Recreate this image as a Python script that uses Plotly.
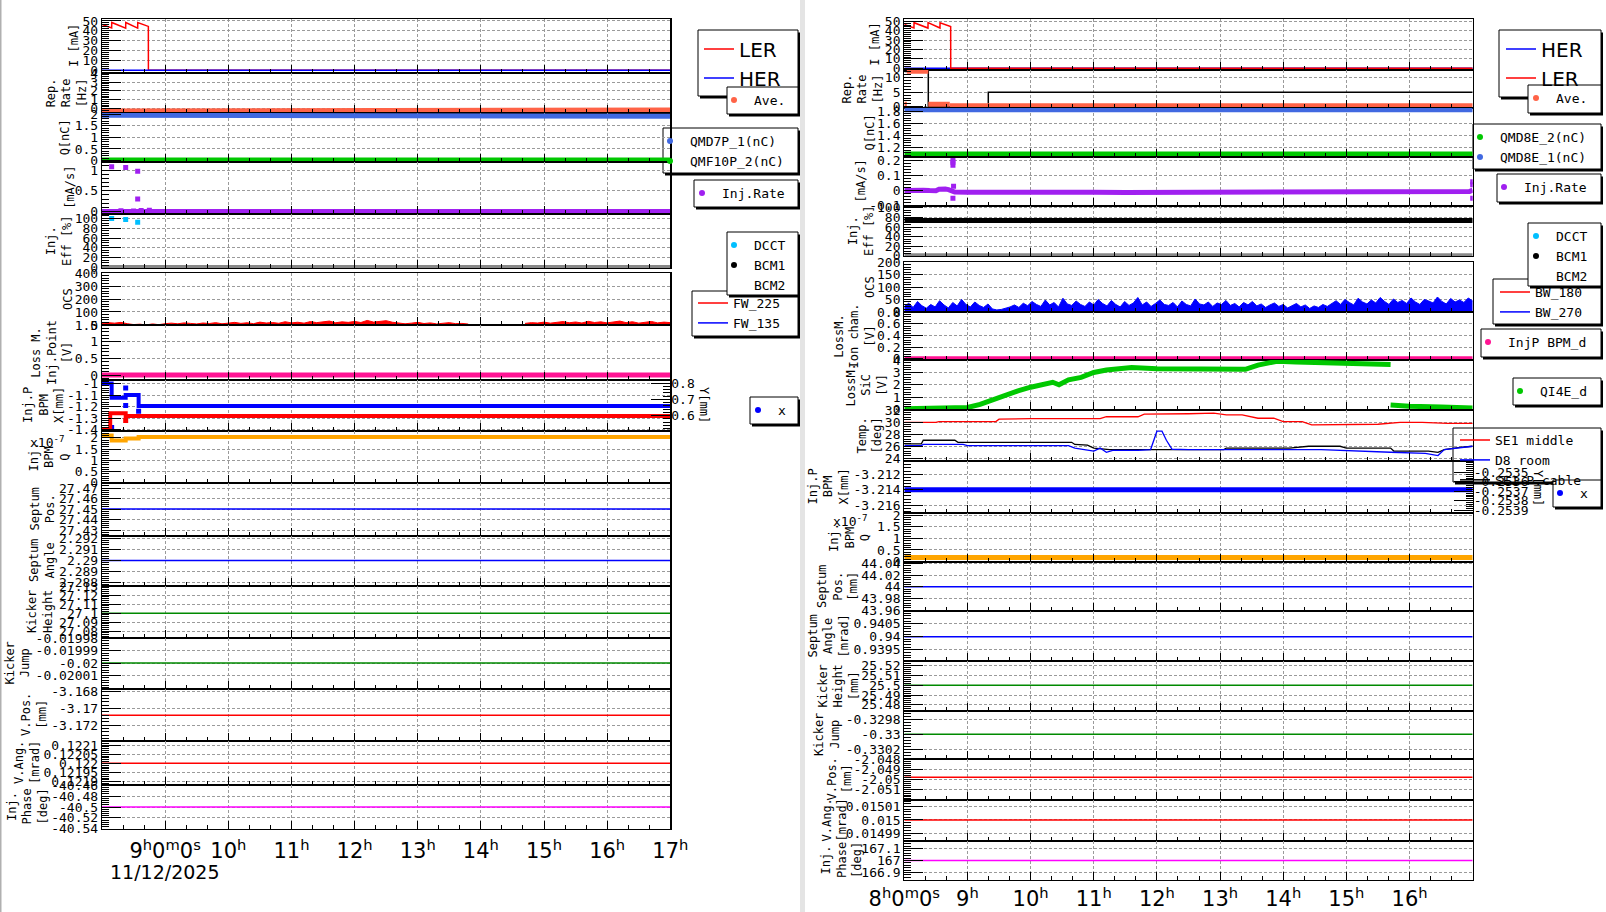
import numpy as np
import plotly.graph_objects as go

W, H = 1606, 912

# ---------------- time axis (hours of 11/12/2025) ----------------
SPAN = [8.0, 17.0]
HOURS = [8, 9, 10, 11, 12, 13, 14, 15, 16, 17]
HOURS_L = [9, 10, 11, 12, 13, 14, 15, 16, 17]
HOUR_TXT_L = ["9<sup>h</sup>0<sup>m</sup>0<sup>s</sup>", "10<sup>h</sup>", "11<sup>h</sup>", "12<sup>h</sup>",
              "13<sup>h</sup>", "14<sup>h</sup>", "15<sup>h</sup>", "16<sup>h</sup>", "17<sup>h</sup>"]
HOURS_R = [8, 9, 10, 11, 12, 13, 14, 15, 16]
HOUR_TXT_R = ["8<sup>h</sup>0<sup>m</sup>0<sup>s</sup>", "9<sup>h</sup>", "10<sup>h</sup>", "11<sup>h</sup>",
              "12<sup>h</sup>", "13<sup>h</sup>", "14<sup>h</sup>", "15<sup>h</sup>", "16<sup>h</sup>"]
DATE_TXT = "11/12/2025"
FLAT_T = [8.0, 17.0]

# ---------------- beam current [mA] ----------------
CUR_T = [8.0, 8.153, 8.154, 8.375, 8.376, 8.565, 8.566, 8.734, 8.735, 17.0]
LER_MA = [46.5, 43.0, 48.5, 42.8, 48.5, 42.8, 48.5, 44.5, 0.0, 0.0]
HER_MA = [0.0, 0.0]

# ---------------- left: rep rate / charge / inj rate / eff ----------------
AVE_L_T = [8.0, 8.58, 8.58, 17.0]
AVE_L_HZ = [-0.28, -0.28, -0.17, -0.17]
QMD7P_T = [8.0, 8.58, 8.58, 17.0]
QMD7P_NC = [1.95, 1.95, 1.91, 1.91]
QMF10P_NC = [0.02, 0.02]
INJR_L = [0.0, 0.0]
INJR_PT_T = [8.153, 8.375, 8.565, 8.565, 8.05, 8.2, 8.3, 8.45, 8.5, 8.62, 8.68, 8.75]
INJR_PT_V = [1.08, 1.06, 0.97, 0.30, -0.01, -0.02, 0.02, -0.03, 0.015, 0.025, -0.025, 0.03]
DCCT_L_T = [8.153, 8.375, 8.565]
DCCT_L_PCT = [100.0, 98.0, 92.0]
BCM2_PCT = [0.0, 0.0]

# ---------------- left: loss monitors ----------------
OCS_L_A = [12, 18, 14, 20, 10, 3, 6, 0, 8, 2, 10, 14, 9, 16, 12, 8, 15, 11, 18, 9,
           14, 20, 12, 17, 10, 22, 15, 19, 13, 25, 16, 21, 14, 26, 18, 22, 30, 17, 24, 20,
           27, 19, 35, 22, 28, 33, 21, 15, 9, 14, 20, 11, 16, 8, 13, 18, 10, 12, 7]
OCS_L_A_SPAN = [8.0, 13.8]
OCS_L_B = [12, 18, 15, 22, 14, 20, 26, 17, 23, 15, 28, 19, 24, 16, 21, 30, 18, 25, 14, 20, 27, 16, 22, 18]
OCS_L_B_SPAN = [14.7, 17.0]
FW135 = [0.0, 0.0]
LOSS_INJ_V = [0.0, 0.0]

# ---------------- left: injection BPM ----------------
BPM_L_T = [8.0, 8.153, 8.153, 8.375, 8.375, 8.58, 8.58, 17.0]
BPMX_L = [-1.0, -1.0, -1.123, -1.123, -1.10, -1.10, -1.194, -1.194]
BPMX_PT_T = [8.375, 8.375, 8.58, 8.153]
BPMX_PT_V = [-1.04, -1.19, -1.24, -1.38]
BPMY_L_T = [8.0, 8.13, 8.13, 8.375, 8.375, 17.0]
BPMY_L = [0.518, 0.518, 0.615, 0.615, 0.598, 0.598]
BPMQ_L = [2.1, 2.1, 1.88, 1.88, 1.97, 1.97, 2.03, 2.03]

# ---------------- left: septum / kicker / vertical ----------------
SEPT_POS_L = [27.45, 27.45]
SEPT_ANG_L = [2.29, 2.29]
KICK_H_L = [27.1, 27.1]
KICK_J_L = [-0.02, -0.02]
VPOS_L = [-3.17084, -3.17084]
VANG_L = [0.122, 0.122]
PHASE_L = [-40.5, -40.5]

# ---------------- right: rep rate / charge / inj rate / eff ----------------
AVE_R_T = [8.0, 8.04, None, 8.04, 8.38, None, 8.38, 8.72, None, 8.72, 17.0]
AVE_R_HZ = [0.86, 0.86, None, 12.15, 12.15, None, 0.86, 0.86, None, 0.38, 0.38]
SET_R_T = [8.0, 8.38, 8.38, 9.33, 9.33, 17.0]
SET_R_HZ = [12.1, 12.1, 0.03, 0.03, 4.97, 4.97]
QMD8E1_NC = [1.82, 1.82]
QMD8E2_NC = [1.1, 1.1]
INJR_R_T = [8.0, 8.1, 8.2, 8.3, 8.4, 8.5, 8.55, 8.6, 8.65, 8.7, 8.76, 8.8, 9.0, 9.5, 10.0, 10.5,
            11.0, 11.5, 12.0, 12.5, 13.0, 13.5, 14.0, 14.5, 15.0, 15.3, 15.5, 16.0, 16.5, 16.95, 17.0]
INJR_R = [0.002, 0.004, -0.002, 0.003, 0.001, 0.0, 0.01, 0.015, 0.012, 0.008, -0.004, -0.008, -0.01,
          -0.008, -0.007, -0.009, -0.01, -0.011, -0.01, -0.012, -0.011, -0.013, -0.012, -0.012, -0.01,
          -0.006, -0.005, -0.006, -0.007, -0.005, 0.005]
INJR_R_PT_T = [8.77, 8.77, 8.77, 8.78, 8.77, 17.0, 17.0, 17.0]
INJR_R_PT_V = [0.2, 0.19, 0.17, 0.03, -0.05, 0.06, 0.04, -0.05]
BCM1_R_PCT = [74.0, 74.0]

# ---------------- right: loss monitors ----------------
BW270 = [22, 35, 18, 42, 25, 15, 30, 20, 45, 28, 16, 38, 24, 50, 30, 20, 40, 26, 18, 32,
         12, 8, 10, 14, 20, 28, 18, 35, 25, 42, 30, 22, 48, 28, 38, 20, 55, 32, 26, 44,
         30, 22, 40, 28, 50, 34, 24, 46, 30, 20, 42, 26, 36, 58, 28, 40, 22, 34, 48, 30,
         26, 38, 20, 44, 30, 24, 52, 32, 28, 40, 22, 36, 30, 46, 26, 34, 20, 38, 28, 42,
         24, 32, 18, 28, 36, 22, 30, 16, 26, 34, 20, 28, 14, 24, 18, 30, 22, 35, 45, 30,
         50, 38, 28, 55, 40, 32, 48, 36, 58, 42, 30, 52, 38, 46, 34, 56, 40, 30, 50, 44,
         36, 60, 42, 32, 54, 40, 48, 38, 56, 44]
BW180 = [1.0, 1.0]
ION_V = [0.0, 0.0]
SIC_T1 = [8.0, 8.5, 9.0, 9.2, 9.4, 9.6, 9.8, 10.0, 10.2, 10.35, 10.45, 10.6, 10.8, 11.0, 11.2, 11.4,
          11.6, 12.0, 12.5, 13.0, 13.4, 13.6, 13.9, 14.2, 14.6, 15.0, 15.4, 15.7]
SIC_V1 = [0.05, 0.1, 0.15, 0.4, 0.8, 1.2, 1.5, 1.8, 2.0, 2.2, 2.0, 2.4, 2.6, 3.0, 3.2, 3.35,
          3.4, 3.3, 3.25, 3.2, 3.25, 3.6, 3.9, 3.85, 3.8, 3.75, 3.7, 3.65]
SIC_T2 = [15.7, 16.0, 16.5, 17.0]
SIC_V2 = [0.35, 0.25, 0.2, 0.12]

# ---------------- right: temperatures [deg] ----------------
SE1M_T = [8.0, 8.5, 8.55, 9.45, 9.5, 10.0, 11.1, 11.2, 11.7, 11.8, 12.5, 12.9, 13.1, 13.35, 13.6,
          13.85, 14.0, 14.3, 14.45, 14.9, 15.5, 15.85, 16.2, 16.6, 17.0]
SE1M_C = [29.95, 29.95, 30.1, 30.1, 30.5, 30.6, 30.6, 30.9, 30.9, 31.35, 31.4, 31.5, 31.2, 31.2, 30.65,
          30.65, 30.1, 30.1, 29.55, 29.6, 29.65, 29.95, 29.95, 29.8, 29.8]
PCAB_T = [8.0, 8.27, 8.3, 8.8, 8.85, 10.65, 10.7, 10.9, 11.0, 11.25, 12.5, 13.06, 13.1, 14.1, 14.4,
          14.9, 15.0, 15.7, 15.75, 16.3, 16.45, 16.55, 16.8, 17.0]
PCAB_C = [26.4, 26.4, 27.0, 27.0, 26.65, 26.65, 26.3, 26.2, 25.7, 25.45, 25.45, 25.45, 25.7, 25.7, 26.0,
          26.0, 25.7, 25.7, 25.2, 25.2, 25.0, 25.45, 25.8, 26.0]
D8_T = [8.0, 8.27, 8.3, 8.93, 9.0, 10.6, 10.7, 10.9, 11.0, 11.1, 11.2, 11.3, 11.7, 11.9, 11.97, 12.0,
        12.08, 12.15, 12.24, 12.5, 14.6, 15.1, 15.7, 16.25, 16.45, 16.55, 16.7, 17.0]
D8_C = [26.1, 26.1, 26.3, 26.3, 26.1, 26.1, 25.7, 25.45, 25.2, 25.7, 25.0, 25.3, 25.3, 25.45, 27.5, 28.5,
        28.5, 27.0, 25.5, 25.45, 25.45, 25.3, 25.0, 24.8, 24.45, 25.45, 25.6, 26.0]

# ---------------- right: BPM / septum / kicker / vertical ----------------
BPMX_R = [-3.214, -3.214]
BPMY_R = [None, None]          # Y reading not shown in the picture (axis only)
BPMQ_R = [0.18, 0.18]
SEPT_POS_R = [44.0, 44.0]
SEPT_ANG_R = [0.94, 0.94]
KICK_H_R = [25.5, 25.5]
KICK_J_R = [-0.33, -0.33]
VPOS_R = [-2.0498, -2.0498]
VANG_R = [0.015, 0.015]
PHASE_R = [167.0, 167.0]

# ---------------- y tick values ----------------
TK_CUR = [0, 10, 20, 30, 40, 50]
TK_REP_L = [0, 1, 2, 3, 4]
TK_Q_L = [0, 0.5, 1, 1.5, 2]
TK_IR_L = [0, 0.5, 1]
TK_EFF = [0, 20, 40, 60, 80, 100]
TK_OCS_L = [0, 100, 200, 300, 400]
TK_LOSS_L = [0, 0.5, 1, 1.5]
TK_BPMX_L = [-1.4, -1.3, -1.2, -1.1, -1.0]
TK_BPMY_L = [0.6, 0.7, 0.8]
TK_BPMQ = [0, 0.5, 1, 1.5, 2]
TK_SPOS_L = [27.43, 27.44, 27.45, 27.46, 27.47]
TK_SANG_L = [2.288, 2.289, 2.29, 2.291, 2.292]
TK_KH_L = [27.08, 27.09, 27.1, 27.11, 27.12, 27.13]
TK_KJ_L = [-0.02001, -0.02, -0.01999, -0.01998]
TK_VPOS_L = [-3.172, -3.17, -3.168]
TK_VANG_L = [0.1219, 0.12195, 0.122, 0.12205, 0.1221]
TK_PH_L = [-40.54, -40.52, -40.5, -40.48, -40.46]
TK_REP_R = [0, 5, 10]
TK_Q_R = [1.2, 1.4, 1.6, 1.8]
TK_IR_R = [-0.1, 0, 0.1, 0.2]
TK_OCS_R = [0, 50, 100, 150, 200]
TK_ION = [0, 0.2, 0.4, 0.6, 0.8]
TK_SIC = [0, 1, 2, 3, 4]
TK_TEMP = [24, 26, 28, 30, 32]
TK_BPMX_R = [-3.216, -3.214, -3.212]
TK_BPMY_R = [-0.2539, -0.2538, -0.2537, -0.2536, -0.2535]
TK_SPOS_R = [43.96, 43.98, 44, 44.02, 44.04]
TK_SANG_R = [0.9395, 0.94, 0.9405]
TK_KH_R = [25.48, 25.49, 25.5, 25.51, 25.52]
TK_KJ_R = [-0.3302, -0.33, -0.3298]
TK_VPOS_R = [-2.051, -2.05, -2.049, -2.048]
TK_VANG_R = [0.01499, 0.015, 0.01501]
TK_PH_R = [166.9, 167, 167.1]

# ---------------- colours ----------------
RED, BLUE, GREEN = "#ff0000", "#0000ff", "#00c800"
TOMATO, ROYAL, PURPLE = "#ff6347", "#4169e1", "#a020f0"
SKY, GREY, PINK, ORANGE = "#00bfff", "#888888", "#ff1493", "#ffa500"
DKGREEN, MAGENTA = "#008a00", "#ff00ff"
MONO = "DejaVu Sans Mono"

# ---------------- panel layout (pixel boxes) ----------------
XL = (102, 670.3)
XR = (904.3, 1472.7)
PANELS = [
    # key, side, top, bottom, y-range, ticks, minor dtick, title, title right edge px
    ("L1", "L", 19.3, 72.7, [-2.4, 51.7], TK_CUR, 2, "I [mA]", 83),
    ("L2", "L", 72.7, 113, [-0.5, 4.05], TK_REP_L, 0.2, "Rep.<br>Rate<br>[Hz]", 91),
    ("L3", "L", 113, 161.7, [-0.05, 2.05], TK_Q_L, 0.1, "Q[nC]", 74),
    ("L4", "L", 161.7, 214, [-0.06, 1.2], TK_IR_L, 0.1, "[mA/s]", 79),
    ("L5", "L", 214, 268, [-1, 109], TK_EFF, 5, "Inj.<br>Eff [%]", 76),
    ("L6", "L", 273, 325, [-0.3, 400.5], TK_OCS_L, 20, "OCS", 77),
    ("L7", "L", 325, 380, [-0.147, 1.505], TK_LOSS_L, 0.1, "Loss M.<br>Inj.Point<br>[V]", 76),
    ("L8", "L", 380, 431, [-1.41, -0.97], TK_BPMX_L, 0.02, "Inj.P<br>BPM<br>X[mm]", 68),
    ("L9", "L", 431, 483, [-0.01, 2.3], TK_BPMQ, 0.1, "Inj.<br>BPM<br>Q", 73),
    ("L10", "L", 483, 536, [27.4243, 27.4748], TK_SPOS_L, 0.002, "Septum<br>Pos.", 59),
    ("L11", "L", 536, 586, [2.2877, 2.2922], TK_SANG_L, 0.0002, "Septum<br>Angle", 59),
    ("L12", "L", 586, 638, [27.0724, 27.1302], TK_KH_L, 0.002, "Kicker<br>Height", 57),
    ("L13", "L", 638, 689, [-0.020021, -0.0199798], TK_KJ_L, 0.000002, "Kicker<br>Jump", 34),
    ("L14", "L", 689, 741, [-3.17392, -3.16768], TK_VPOS_L, 0.0004, "V.Pos.<br>[mm]", 51),
    ("L15", "L", 741, 785, [0.121882, 0.122122], TK_VANG_L, 0.00001, "V.Ang.<br>[mrad]", 44),
    ("L16", "L", 785, 829, [-40.5405, -40.4595], TK_PH_L, 0.004, "Inj.<br>Phase<br>[deg]", 51),
    ("R1", "R", 19.3, 70, [-1.8, 52.1], TK_CUR, 2, "I [mA]", 884),
    ("R2", "R", 70, 108, [-0.4, 12.6], TK_REP_R, 1, "Rep.<br>Rate<br>[Hz]", 886),
    ("R3", "R", 108, 157, [1.05, 1.85], TK_Q_R, 0.04, "Q[nC]", 878),
    ("R4", "R", 157, 206, [-0.101, 0.224], TK_IR_R, 0.02, "[mA/s]", 869),
    ("R5", "R", 206, 256, [-0.3, 104], TK_EFF, 5, "Inj.<br>Eff [%]", 878),
    ("R6", "R", 262, 312, [-0.3, 200.5], TK_OCS_R, 10, "OCS", 879),
    ("R7", "R", 312, 360, [-0.02, 0.802], TK_ION, 0.04, "LossM.<br>Ion cham.<br>[V]", 878),
    ("R8", "R", 360, 410, [-0.05, 4.01], TK_SIC, 0.2, "LossM.<br>SiC<br>[V]", 890),
    ("R9", "R", 410, 461, [23.55, 32.02], TK_TEMP, 0.4, "Temp.<br>[deg]", 886),
    ("R10", "R", 461, 513, [-3.217, -3.2103], TK_BPMX_R, 0.0004, "Inj.P<br>BPM<br>X[mm]", 853),
    ("R11", "R", 513, 562, [-0.02, 2.1], TK_BPMQ, 0.1, "Inj.<br>BPM<br>Q", 874),
    ("R12", "R", 562, 611, [43.9584, 44.0423], TK_SPOS_R, 0.004, "Septum<br>Pos.<br>[mm]", 862),
    ("R13", "R", 611, 661, [0.93907, 0.94099], TK_SANG_R, 0.0001, "Septum<br>Angle<br>[mrad]", 852),
    ("R14", "R", 661, 711, [25.4736, 25.525], TK_KH_R, 0.002, "Kicker<br>Height<br>[mm]", 862),
    ("R15", "R", 711, 759, [-0.33033, -0.32969], TK_KJ_R, 0.00004, "Kicker<br>Jump", 844),
    ("R16", "R", 759, 800, [-2.05211, -2.04793], TK_VPOS_R, 0.0002, "V.Pos.<br>[mm]", 856),
    ("R17", "R", 800, 841, [0.0149842, 0.015015], TK_VANG_R, 0.000002, "V.Ang.<br>[mrad]", 851),
    ("R18", "R", 841, 880, [166.836, 167.164], TK_PH_R, 0.02, "Inj.<br>Phase<br>[deg]", 866),
]


def fmt(v):
    return "%.6g" % v


GRID = dict(showgrid=True, gridcolor="#9a9a9a", gridwidth=1, griddash="3px,2px")
layout = dict(width=W, height=H, autosize=False, template="none",
              margin=dict(l=0, r=0, t=0, b=0, pad=0, autoexpand=False),
              paper_bgcolor="white", plot_bgcolor="rgba(0,0,0,0)", showlegend=True)
annotations = []
shapes = []
AX = {}

for n, (key, side, top, bot, yr, tv, mdt, title, tx) in enumerate(PANELS, start=1):
    s = "" if n == 1 else str(n)
    x0, x1 = XL if side == "L" else XR
    xa = dict(domain=[x0 / W, x1 / W], range=SPAN, anchor="y" + s, tickmode="array", tickvals=HOURS,
              showticklabels=False, ticks="inside", ticklen=8, tickwidth=1, tickcolor="black",
              minor=dict(ticks="inside", ticklen=4, tick0=8, dtick=1 / 3, tickcolor="black", tickwidth=1,
                         showgrid=False),
              showline=True, linecolor="black", linewidth=1.2, mirror=True, zeroline=False, automargin=False,
              tickfont=dict(family="DejaVu Sans", size=21, color="black"), fixedrange=True, **GRID)
    if key == "L16":
        xa.update(tickvals=HOURS_L, ticktext=HOUR_TXT_L, showticklabels=True, ticklabelstandoff=3)
    elif key == "R18":
        xa.update(tickvals=HOURS_R, ticktext=HOUR_TXT_R, showticklabels=True, ticklabelstandoff=0)
    ya = dict(domain=[1 - bot / H, 1 - top / H], range=yr, anchor="x" + s, tickmode="array", tickvals=tv,
              ticktext=[fmt(v) for v in tv], ticks="inside", ticklen=19, tickwidth=1, tickcolor="black",
              minor=dict(ticks="inside", ticklen=7, tick0=tv[0], dtick=mdt, tickcolor="black", tickwidth=1,
                         showgrid=False),
              showline=True, linecolor="black", linewidth=1.2, mirror=True, zeroline=False, automargin=False,
              tickfont=dict(family=MONO, size=13, color="black"), fixedrange=True, **GRID)
    layout["xaxis" + s] = xa
    layout["yaxis" + s] = ya
    AX[key] = ("x" + s, "y" + s)
    annotations.append(dict(text=title, x=tx / W, y=1 - (top + bot) / 2 / H, xref="paper", yref="paper",
                            xanchor="right", yanchor="middle", textangle=-90, showarrow=False, align="center",
                            font=dict(family=MONO, size=12, color="black")))

# secondary (right) y axes for the injection-point BPM panels
NEXT = len(PANELS) + 1
for key, yr, tv, mdt, tpx, tpy in [("L8", [0.505, 0.82], TK_BPMY_L, 0.02, 704, 405),
                                    ("R10", [-0.25393, -0.25338], TK_BPMY_R, 0.00002, 1538, 488)]:
    xa_name, ya_name = AX[key]
    s = str(NEXT)
    NEXT += 1
    layout["yaxis" + s] = dict(overlaying=ya_name, side="right", anchor=xa_name, range=yr, tickmode="array",
                               tickvals=tv, ticktext=[fmt(v) for v in tv], ticks="inside", ticklen=19,
                               tickwidth=1, tickcolor="black", showticklabels=True,
                               minor=dict(ticks="inside", ticklen=7, tick0=tv[0], dtick=mdt, tickcolor="black",
                                          tickwidth=1, showgrid=False),
                               showgrid=False, showline=False, zeroline=False, fixedrange=True, automargin=False,
                               tickfont=dict(family=MONO, size=13, color="black"))
    AX[key + "Y"] = (xa_name, "y" + s)
    annotations.append(dict(text="Y[mm]", x=tpx / W, y=1 - tpy / H, xref="paper", yref="paper",
                            xanchor="center", yanchor="middle", textangle=90, showarrow=False,
                            font=dict(family=MONO, size=12, color="black")))

fig = go.Figure()


def line(key, x, y, color, width=1.5, mode="lines", msize=4, fill=None):
    xa, ya = AX[key]
    kw = dict(x=x, y=y, mode=mode, xaxis=xa, yaxis=ya, showlegend=False, hoverinfo="skip")
    if "lines" in mode:
        kw["line"] = dict(color=color, width=width)
    if "markers" in mode:
        kw["marker"] = dict(color=color, size=msize, symbol="square", line=dict(width=0))
    if fill:
        kw["fill"] = fill
        kw["fillcolor"] = color
    fig.add_trace(go.Scatter(**kw))


def spaced(span, vals):
    return list(np.linspace(span[0], span[1], len(vals)))


# ----- left column -----
line("L1", CUR_T, LER_MA, RED)
line("L1", FLAT_T, HER_MA, BLUE)
line("L2", AVE_L_T, AVE_L_HZ, TOMATO, 5)
line("L3", QMD7P_T, QMD7P_NC, ROYAL, 5)
line("L3", FLAT_T, QMF10P_NC, GREEN, 5)
line("L4", FLAT_T, INJR_L, PURPLE, 5)
line("L4", INJR_PT_T, INJR_PT_V, PURPLE, mode="markers", msize=5)
line("L5", FLAT_T, BCM2_PCT, GREY, 5)
line("L5", DCCT_L_T, DCCT_L_PCT, SKY, mode="markers", msize=5)
line("L6", FLAT_T, FW135, BLUE, 1.5)
line("L6", spaced(OCS_L_A_SPAN, OCS_L_A), OCS_L_A, RED, 1, fill="tozeroy")
line("L6", spaced(OCS_L_B_SPAN, OCS_L_B), OCS_L_B, RED, 1, fill="tozeroy")
line("L7", FLAT_T, LOSS_INJ_V, PINK, 5)
line("L8Y", BPMY_L_T, BPMY_L, RED, 4)
line("L8Y", [8.375], [0.57], RED, mode="markers", msize=5)
line("L8", BPM_L_T, BPMX_L, BLUE, 4)
line("L8", BPMX_PT_T, BPMX_PT_V, BLUE, mode="markers", msize=5)
line("L9", BPM_L_T, BPMQ_L, ORANGE, 4)
line("L10", FLAT_T, SEPT_POS_L, BLUE)
line("L11", FLAT_T, SEPT_ANG_L, BLUE)
line("L12", FLAT_T, KICK_H_L, DKGREEN)
line("L13", FLAT_T, KICK_J_L, DKGREEN)
line("L14", FLAT_T, VPOS_L, RED)
line("L15", FLAT_T, VANG_L, RED)
line("L16", FLAT_T, PHASE_L, MAGENTA)

# ----- right column -----
line("R1", FLAT_T, HER_MA, BLUE)
line("R1", CUR_T, LER_MA, RED)
line("R2", SET_R_T, SET_R_HZ, "black", 1.5)
line("R2", AVE_R_T, AVE_R_HZ, TOMATO, 5)
line("R3", FLAT_T, QMD8E1_NC, ROYAL, 5)
line("R3", FLAT_T, QMD8E2_NC, GREEN, 5)
line("R4", INJR_R_T, INJR_R, PURPLE, 5)
line("R4", INJR_R_PT_T, INJR_R_PT_V, PURPLE, mode="markers", msize=5)
line("R5", FLAT_T, BCM2_PCT, GREY, 5)
line("R5", FLAT_T, BCM1_R_PCT, "black", 5)
line("R6", spaced(SPAN, BW270), BW270, BLUE, 1, fill="tozeroy")
line("R6", FLAT_T, BW180, RED, 1.5)
line("R7", FLAT_T, ION_V, PINK, 5)
line("R8", SIC_T1, SIC_V1, GREEN, 5)
line("R8", SIC_T2, SIC_V2, GREEN, 5)
line("R9", SE1M_T, SE1M_C, RED, 1.3)
line("R9", PCAB_T, PCAB_C, "black", 1.3)
line("R9", D8_T, D8_C, BLUE, 1.3)
line("R10Y", FLAT_T, BPMY_R, RED, 3)
line("R10", FLAT_T, BPMX_R, BLUE, 5)
line("R11", FLAT_T, BPMQ_R, ORANGE, 5)
line("R12", FLAT_T, SEPT_POS_R, BLUE)
line("R13", FLAT_T, SEPT_ANG_R, BLUE)
line("R14", FLAT_T, KICK_H_R, DKGREEN)
line("R15", FLAT_T, KICK_J_R, DKGREEN)
line("R16", FLAT_T, VPOS_R, RED)
line("R17", FLAT_T, VANG_R, RED)
line("R18", FLAT_T, PHASE_R, MAGENTA)

# ---------------- legends (box px, entries, symbol x, first entry y, font) ----------------
LEGENDS = [
    ((698, 30, 798, 96), [("LER", "line", RED), ("HER", "line", BLUE)], 704, 49, "big"),
    ((727, 87, 798, 114), [("Ave.", "dot", TOMATO)], 734, 100, "mono"),
    ((663, 128, 798, 173), [("QMD7P_1(nC)", "dot", ROYAL), ("QMF10P_2(nC)", "dot", GREEN)], 670, 141, "mono"),
    ((694, 180, 798, 207), [("Inj.Rate", "dot", PURPLE)], 702, 193, "mono"),
    ((692, 291, 798, 336), [("FW_225", "line", RED), ("FW_135", "line", BLUE)], 698, 303, "mono"),
    ((727, 232, 798, 295), [("DCCT", "dot", SKY), ("BCM1", "dot", "black"), ("BCM2", "dot", "rgba(0,0,0,0)")],
     734, 245, "mono"),
    ((750, 397, 798, 424), [("x", "dot", BLUE)], 758, 410, "mono"),
    ((1499, 30, 1601, 97), [("HER", "line", BLUE), ("LER", "line", RED)], 1506, 49, "big"),
    ((1528, 85, 1601, 113), [("Ave.", "dot", TOMATO)], 1536, 98, "mono"),
    ((1473, 124, 1601, 169), [("QMD8E_2(nC)", "dot", GREEN), ("QMD8E_1(nC)", "dot", ROYAL)], 1480, 137, "mono"),
    ((1497, 174, 1601, 202), [("Inj.Rate", "dot", PURPLE)], 1504, 187, "mono"),
    ((1493, 279, 1601, 324), [("BW_180", "line", RED), ("BW_270", "line", BLUE)], 1500, 292, "mono"),
    ((1528, 223, 1601, 286), [("DCCT", "dot", SKY), ("BCM1", "dot", "black"), ("BCM2", "dot", "rgba(0,0,0,0)")],
     1536, 236, "mono"),
    ((1481, 329, 1601, 357), [("InjP BPM_d", "dot", PINK)], 1488, 342, "mono"),
    ((1513, 378, 1601, 405), [("QI4E_d", "dot", GREEN)], 1520, 391, "mono"),
    ((1453, 428, 1601, 482), [("SE1 middle", "line", RED), ("D8 room", "line", BLUE),
                              ("SE1 P.cable", "line", "black")], 1460, 440, "mono"),
    ((1553, 480, 1601, 507), [("x", "dot", BLUE)], 1560, 493, "mono"),
]

for i, (box, ents, sx, sy, fk) in enumerate(LEGENDS):
    lid = "legend" if i == 0 else "legend%d" % (i + 1)
    fs = 20 if fk == "big" else 13
    fam = "DejaVu Sans" if fk == "big" else MONO
    item_h = max(fs * 1.3, 16) + 3
    lx = sx - 5 if ents[0][1] == "line" else sx - 20
    ly = sy - (5 + item_h / 2)
    layout[lid] = dict(x=lx / W, y=1 - ly / H, xanchor="left", yanchor="top", bgcolor="rgba(0,0,0,0)",
                       borderwidth=0, font=dict(family=fam, size=fs, color="black"), tracegroupgap=0,
                       itemclick=False, itemdoubleclick=False, traceorder="normal")
    for name, kind, color in ents:
        if kind == "line":
            fig.add_trace(go.Scatter(x=[None], y=[None], mode="lines", name=name, legend=lid,
                                     line=dict(color=color, width=1.5), hoverinfo="skip"))
        else:
            fig.add_trace(go.Scatter(x=[None], y=[None], mode="markers", name=name, legend=lid,
                                     marker=dict(color=color, size=6, symbol="circle"), hoverinfo="skip"))
    x0, y0, x1, y1 = box
    shapes.append(dict(type="rect", xref="paper", yref="paper", layer="below",
                       x0=(x0 + 2) / W, x1=(x1 + 2) / W, y0=1 - (y1 + 2.5) / H, y1=1 - (y0 + 2.5) / H,
                       fillcolor="black", line=dict(width=0)))
    shapes.append(dict(type="rect", xref="paper", yref="paper", layer="below",
                       x0=x0 / W, x1=x1 / W, y0=1 - y1 / H, y1=1 - y0 / H,
                       fillcolor="white", line=dict(color="black", width=1)))

# canvas borders
shapes.append(dict(type="rect", xref="paper", yref="paper", layer="above", x0=800 / W, x1=805 / W, y0=0, y1=1,
                   fillcolor="#e4e4e4", line=dict(width=0)))
shapes.append(dict(type="rect", xref="paper", yref="paper", layer="above", x0=0, x1=1.5 / W, y0=0, y1=1,
                   fillcolor="#b0b0b0", line=dict(width=0)))

# exponent labels and date
annotations.append(dict(text="x10<sup>-7</sup>", x=28 / W, y=1 - 442 / H, xref="paper", yref="paper",
                        xanchor="left", yanchor="middle", showarrow=False,
                        font=dict(family=MONO, size=13, color="black")))
annotations.append(dict(text="x10<sup>-7</sup>", x=831 / W, y=1 - 521 / H, xref="paper", yref="paper",
                        xanchor="left", yanchor="middle", showarrow=False,
                        font=dict(family=MONO, size=13, color="black")))
annotations.append(dict(text=DATE_TXT, x=108 / W, y=1 - 872 / H, xref="paper", yref="paper",
                        xanchor="left", yanchor="middle", showarrow=False,
                        font=dict(family="DejaVu Sans", size=19, color="black")))

layout["annotations"] = annotations
layout["shapes"] = shapes
fig.update_layout(**layout)
fig.write_html("out.html", config={"displayModeBar": False, "staticPlot": True},
               post_script="document.body.style.margin='0px';document.body.style.overflow='hidden';")
